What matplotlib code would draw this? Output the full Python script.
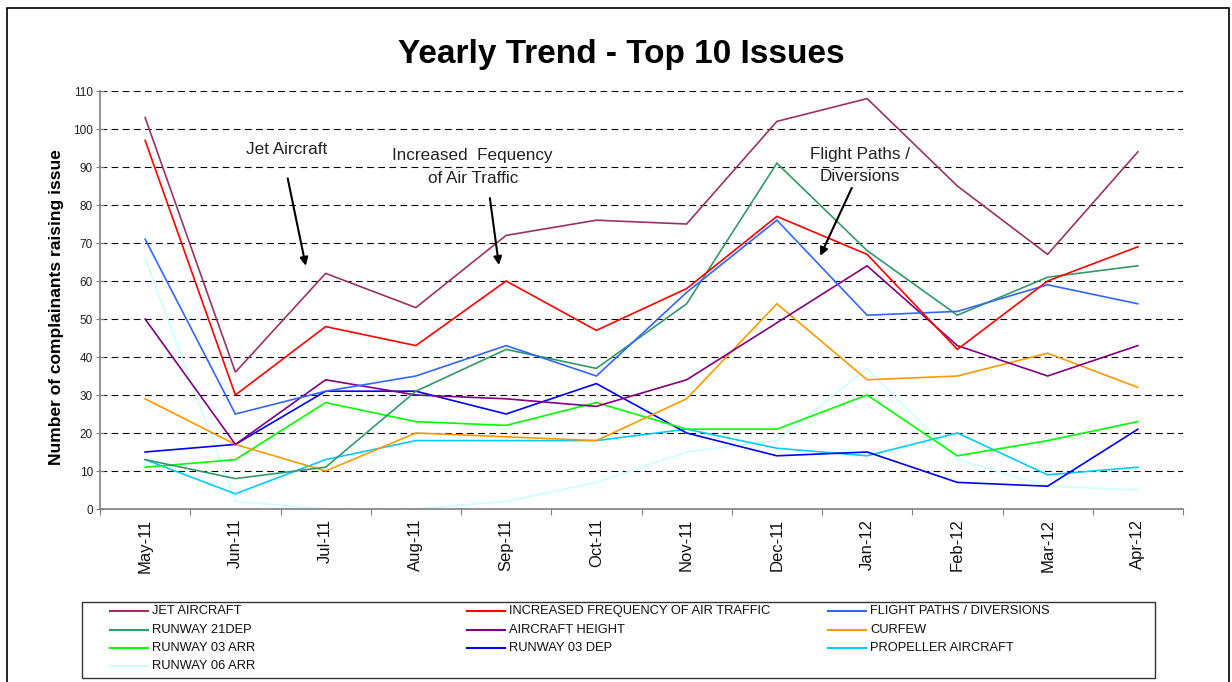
import matplotlib
matplotlib.use("Agg")
import matplotlib.pyplot as plt
from matplotlib.lines import Line2D
from matplotlib.patches import Rectangle

plt.rcParams['font.family'] = ['Liberation Sans', 'DejaVu Sans']

months = ["May-11", "Jun-11", "Jul-11", "Aug-11", "Sep-11", "Oct-11",
          "Nov-11", "Dec-11", "Jan-12", "Feb-12", "Mar-12", "Apr-12"]

series_names = ["JET AIRCRAFT", "INCREASED FREQUENCY OF AIR TRAFFIC",
                "FLIGHT PATHS / DIVERSIONS", "RUNWAY 21DEP", "AIRCRAFT HEIGHT",
                "CURFEW", "RUNWAY 03 ARR", "RUNWAY 03 DEP", "PROPELLER AIRCRAFT",
                "RUNWAY 06 ARR"]

jet_aircraft = [103, 36, 62, 53, 72, 76, 75, 102, 108, 85, 67, 94]
increased_frequency = [97, 30, 48, 43, 60, 47, 58, 77, 67, 42, 60, 69]
flight_paths = [71, 25, 31, 35, 43, 35, 57, 76, 51, 52, 59, 54]
runway_21dep = [13, 8, 11, 31, 42, 37, 54, 91, 68, 51, 61, 64]
aircraft_height = [50, 17, 34, 30, 29, 27, 34, 49, 64, 43, 35, 43]
curfew = [29, 17, 10, 20, 19, 18, 29, 54, 34, 35, 41, 32]
runway_03_arr = [11, 13, 28, 23, 22, 28, 21, 21, 30, 14, 18, 23]
runway_03_dep = [15, 17, 31, 31, 25, 33, 20, 14, 15, 7, 6, 21]
propeller_aircraft = [13, 4, 13, 18, 18, 18, 21, 16, 14, 20, 9, 11]
runway_06_arr = [66, 2, 0, 0, 2, 7, 15, 18, 37, 13, 6, 5]

y_ticks = list(range(0, 111, 10))

colors = ["#993366", "#FF0000", "#3366FF", "#339966", "#800080",
          "#FF9900", "#00FF00", "#0000FF", "#00CCFF", "#CCFFFF"]

all_series = [jet_aircraft, increased_frequency, flight_paths, runway_21dep,
              aircraft_height, curfew, runway_03_arr, runway_03_dep,
              propeller_aircraft, runway_06_arr]

W, H = 1232, 682
fig = plt.figure(figsize=(W / 100, H / 100), dpi=100)

def fx(px):
    return px / W

def fy(py):
    return 1 - py / H

# outer border
fig.add_artist(Rectangle((fx(7), fy(690)), fx(1229) - fx(7), fy(8) - fy(690),
                         transform=fig.transFigure, fill=False,
                         edgecolor='black', linewidth=1.2))

ax = fig.add_axes([fx(100), fy(509), fx(1183) - fx(100), fy(91) - fy(509)])

x = list(range(len(months)))
# draw in reverse so first series is on top
for name, vals, col in reversed(list(zip(series_names, all_series, colors))):
    ax.plot(x, vals, color=col, linewidth=1.2, label=name, solid_joinstyle='miter')

ax.set_xlim(-0.5, len(months) - 0.5)
ax.set_ylim(0, 110)
ax.set_yticks(y_ticks)
ax.set_yticklabels([str(v) for v in y_ticks], fontsize=8.5, color='#222222')
ax.yaxis.grid(True, linestyle=(0, (6, 4)), color='black', linewidth=0.8)
ax.set_axisbelow(True)
ax.tick_params(axis='y', direction='inout', length=6, width=0.8, color='#808080', pad=2)

ax.set_xticks(x)
ax.set_xticklabels(months, rotation=90, fontsize=12, color='#111111')
ax.tick_params(axis='x', which='major', length=0, pad=7)
ax.set_xticks([i - 0.5 for i in range(len(months) + 1)], minor=True)
ax.tick_params(axis='x', which='minor', direction='out', length=4, width=0.8, color='#808080')

for s in ['top', 'right']:
    ax.spines[s].set_visible(False)
for s in ['left', 'bottom']:
    ax.spines[s].set_color('#808080')
    ax.spines[s].set_linewidth(1.2)

fig.text(fx(57), fy(307), "Number of complainants raising issue", fontsize=12.5,
         fontweight='bold', rotation=90, ha='center', va='center')

fig.text(fx(621), fy(55), "Yearly Trend - Top 10 Issues", fontsize=24,
         fontweight='bold', ha='center', va='center')

# annotations (data coords)
arrow_kw = dict(arrowstyle='-|>', color='black', lw=1.5, mutation_scale=12,
                shrinkA=0, shrinkB=0)
ax.text(1.57, 94.5, "Jet Aircraft", fontsize=12.3, ha='center', va='center',
        color='#222222')
ax.annotate("", xy=(1.78, 64.0), xytext=(1.58, 87.0), arrowprops=arrow_kw)

ax.text(3.63, 90.0, "Increased  Fequency\nof Air Traffic", fontsize=12.3,
        ha='center', va='center', color='#222222', linespacing=1.65)
ax.annotate("", xy=(3.92, 64.2), xytext=(3.82, 81.8), arrowprops=arrow_kw)

ax.text(7.92, 90.5, "Flight Paths /\nDiversions", fontsize=12.3,
        ha='center', va='center', color='#222222', linespacing=1.6)
ax.annotate("", xy=(7.48, 66.6), xytext=(7.83, 84.5), arrowprops=arrow_kw)

# legend box (manual, row-wise layout)
fig.add_artist(Rectangle((fx(82), fy(678)), fx(1155) - fx(82), fy(602) - fy(678),
                         transform=fig.transFigure, fill=False,
                         edgecolor='#333333', linewidth=1.0))
col_x = [110, 467, 828]
row_y = [611, 630, 648, 666]
for i, (name, col) in enumerate(zip(series_names, colors)):
    r, c = divmod(i, 3)
    x0 = col_x[c]
    yy = row_y[r]
    fig.add_artist(Line2D([fx(x0), fx(x0 + 38)], [fy(yy), fy(yy)],
                          transform=fig.transFigure, color=col, linewidth=1.5))
    fig.text(fx(x0 + 42), fy(yy), name, fontsize=9.3, ha='left', va='center',
             color='#111111')

fig.savefig("out.png", dpi=100)
